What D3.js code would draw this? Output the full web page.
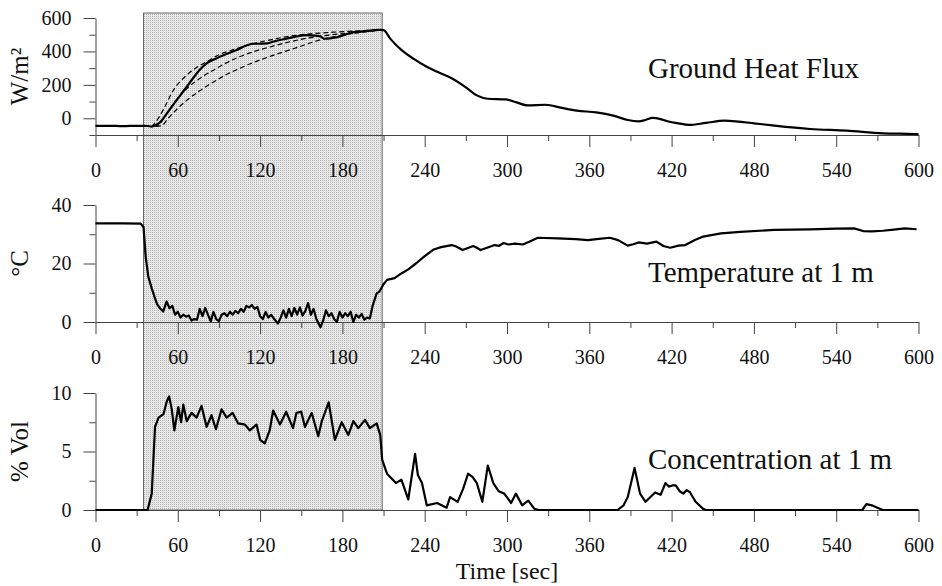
<!DOCTYPE html>
<html>
<head>
<meta charset="utf-8">
<script src="https://cdn.jsdelivr.net/npm/d3@7"></script>
<style>
    body { margin: 0; background: #fff; }
    text { font-family: "Liberation Serif", "Times New Roman", serif; fill: #111; }
</style>
</head>
<body>
<script>
// release window (shaded)
var windowStart = 35;
var windowEnd = 209;

// x axis ticks
var majorTimes = [0, 60, 120, 180, 240, 300, 360, 420, 480, 540, 600];
var minorTimes = [30, 90, 150, 210, 270, 330, 390, 450, 510, 570];

// ground heat flux, measured (solid)
var fluxTime = [0, 10, 20, 30, 35, 38, 41, 44, 47, 53, 59, 65, 71, 76, 81, 88, 95, 102, 110, 115, 120, 125, 131, 137, 145, 154, 160, 164, 167, 171, 176, 182, 188, 195, 202, 207, 210, 215, 223, 232, 241.5, 250, 260, 270, 278, 286, 299, 307, 315, 328, 340, 351, 365, 377.5, 388, 396, 401, 406, 412, 417, 425, 432.5, 445, 458.6, 469, 480, 495, 521, 547.6, 574, 597, 600];
var fluxValue = [-45, -45, -47, -45, -45, -46, -50, -40, -24, 40, 107, 172, 238, 290, 328, 358, 383, 405, 435, 446, 446, 448, 462, 473, 487, 497, 495, 489, 476, 478, 485, 500, 515, 520, 526, 529, 528, 475, 409, 355, 308, 275, 238, 185, 137, 117, 113, 95, 77, 81, 62, 46, 35, 16, -10, -18, -10, 2, -5, -18, -30, -40, -28, -14, -20, -30, -44, -64, -74, -90, -94, -95];

// ground heat flux, model runs (dashed)
var fluxModelA_t = [41, 45, 50, 56.7, 66.5, 73, 81, 90, 100, 112, 125, 137, 149, 161, 173, 190, 207];
var fluxModelA_v = [-50, -10, 60, 167, 258, 300, 338, 380, 409, 440, 465, 485, 499, 508, 515, 522, 529];
var fluxModelB_t = [43, 47, 52, 58, 66.5, 76, 86, 95, 105, 117, 130, 142, 154, 170, 189, 207];
var fluxModelB_v = [-48, -32, 30, 100, 177, 238, 288, 330, 368, 403, 433, 458, 479, 498, 512, 527];
var fluxModelC_t = [44, 48, 53, 60, 66.5, 76, 86, 95, 105, 117, 130, 140, 149, 158, 168.5, 178, 188, 207];
var fluxModelC_v = [-48, -45, 0, 60, 107, 165, 217, 260, 298, 340, 378, 405, 429, 455, 479, 495, 508, 527];

// temperature at 1 m
var tempTime = [0, 20, 33, 35, 36.6, 38.5, 41, 43.4, 45, 47, 49.4, 51.8, 54, 56, 58, 60, 62, 64, 66, 68, 70, 72, 74, 76, 78, 80, 82, 84, 86, 88, 90, 92, 94, 96, 98, 100, 102, 104, 106, 108, 110, 112, 114, 116, 118, 120, 122, 124, 126, 128, 130, 133, 135, 137, 139, 141, 143, 145, 147, 149, 151, 153, 155, 157, 159, 161, 164, 166, 168, 170, 172, 174, 176, 178, 180, 182, 184, 186, 188, 190, 192, 194, 196, 198, 200, 202, 205, 207, 210, 212.6, 218, 223, 228, 233.6, 240, 246.6, 252, 259.7, 263, 267.6, 271, 275.4, 278, 280.7, 286, 291, 294, 297.5, 301, 306, 311.6, 317, 322.5, 337, 350, 359, 367, 375, 381, 388, 392, 396, 402, 409, 414, 419, 425, 430, 437, 443, 456, 470, 495, 521, 540, 553, 559.6, 566, 574, 582, 590, 598.6];
var tempValue = [33.7, 33.7, 33.6, 32.5, 22.3, 15.5, 11.5, 8.1, 6, 4.7, 3.6, 7, 4.7, 5.5, 2.5, 3.5, 1.5, 2.5, 1.8, 2.2, 0.5, 1.0, 0.8, 4.5, 2.0, 4.8, 2.5, 0.2, 3.5, 1.0, 0.3, 2.5, 3.0, 2.0, 3.5, 2.5, 3.8, 3.0, 4.5, 3.5, 5.5, 5.0, 5.8, 4.5, 5.2, 2.0, 1.0, 3.5, 1.5, 2.5, 1.2, -0.5, 1.5, 4.0, 1.5, 4.5, 2.0, 4.8, 2.5, 5.0, 2.2, 3.8, 6.5, 2.5, 4.5, 1.0, -1.8, 0.5, 4.0, 2.0, 3.0, 1.0, 0.0, 3.5, 1.5, 3.0, 2.0, 3.5, 0.0, 2.5, 1.5, 2.8, 0.8, 1.5, 1.2, 5.5, 9.8, 10.4, 12.9, 14.4, 15, 16.6, 18, 20, 22.5, 24.8, 25.6, 26.3, 25.8, 24.6, 25.2, 26, 25.4, 24.6, 25.5, 26.3, 26, 27, 26.5, 26.8, 26.5, 27.6, 28.8, 28.6, 28.3, 28, 28.4, 28.8, 28, 26.1, 26.6, 27.2, 26.8, 27.5, 26, 25.4, 26.1, 26.3, 28, 29.2, 30.3, 30.8, 31.5, 31.7, 31.9, 32, 31.1, 31, 31.2, 31.6, 32, 31.7];

// concentration at 1 m
var concTime = [0, 38, 41, 43.4, 46, 49.6, 52, 53.7, 55.6, 57.5, 60.4, 62.4, 64, 66.5, 70, 73.7, 77.3, 81, 84.6, 87.8, 91.9, 95.6, 100, 104, 109, 112.5, 117.4, 120, 123.4, 127, 129.5, 134.5, 139, 144, 146.5, 150, 152.7, 157.6, 162.4, 165, 170, 174.5, 179.5, 184.3, 188, 191.6, 196.5, 200, 205, 207.6, 209, 212.5, 215, 219, 223, 228, 233, 235, 238, 241.5, 249, 256, 258.5, 264, 268, 271.6, 275, 278, 282, 286, 290, 294, 298, 303, 306.5, 311, 315.5, 320, 323, 380.6, 385, 388, 393, 397, 401, 408, 412, 415.5, 418, 420.5, 423, 426, 428.5, 431, 433.5, 437.5, 443, 445, 559, 562, 566, 570, 574, 600];
var concValue = [0, 0, 1.4, 7.1, 7.9, 8.2, 9.3, 9.7, 8.6, 6.8, 8.8, 7.5, 9.0, 7.6, 8.3, 7.9, 8.9, 7.1, 8.1, 6.9, 8.6, 7.9, 8.3, 7.4, 7.3, 6.8, 7.3, 6.0, 5.7, 6.8, 8.5, 7.3, 8.4, 7.0, 8.3, 8.4, 7.1, 8.3, 6.3, 7.6, 9.2, 6.0, 7.5, 6.4, 7.6, 7.0, 7.7, 7.0, 7.4, 6.4, 4.3, 3.1, 2.8, 2.3, 2.6, 0.9, 4.8, 3.0, 2.3, 0.4, 0.6, 0.2, 1.1, 0.7, 1.8, 3.1, 2.8, 2.3, 0.7, 3.8, 2.3, 1.6, 1.4, 0.6, 1.4, 0.4, 0.8, 0.1, 0, 0, 0.4, 1.1, 3.6, 1.4, 0.7, 1.5, 1.3, 2.3, 2.0, 2.1, 2.1, 1.6, 1.4, 1.7, 1.5, 0.7, 0.1, 0, 0, 0.5, 0.4, 0.2, 0, 0];

// panel y axes
var fluxDomain = [-100, 600];
var fluxMajor = [0, 200, 400, 600];
var fluxMinor = [-100, 100, 300, 500];
var tempDomain = [0, 40];
var tempMajor = [0, 20, 40];
var tempMinor = [10, 30];
var concDomain = [0, 10];
var concMajor = [0, 5, 10];
var concMinor = [2.5, 7.5];

function init ()
{
    var w = 942;
    var h = 586;
    var xLeft = 95.5;
    var xRight = 918.5;
    var panelH = 117;

    var svg = d3.select("body")
        .append("svg")
        .attr("width", w)
        .attr("height", h);

        //stipple fill for the release window
    var pat = svg.append("defs")
        .append("pattern")
        .attr("id", "stipple")
        .attr("patternUnits", "userSpaceOnUse")
        .attr("width", 2)
        .attr("height", 2);
    pat.append("rect")
        .attr("width", 2)
        .attr("height", 2)
        .style("fill", "#e8e8e8");
    pat.append("rect")
        .attr("width", 1)
        .attr("height", 1)
        .style("fill", "#b4b4b4");

    var xScale = d3.scaleLinear()
        .domain([0, 600])
        .range([xLeft, xRight]);

    var panels = [
        { top: 18, domain: fluxDomain, major: fluxMajor, minor: fluxMinor, title: "W/m²", note: "Ground Heat Flux", noteY: 78 },
        { top: 205, domain: tempDomain, major: tempMajor, minor: tempMinor, title: "°C", note: "Temperature at 1 m", noteY: 282 },
        { top: 393, domain: concDomain, major: concMajor, minor: concMinor, title: "% Vol", note: "Concentration at 1 m", noteY: 469 }
    ];

    panels.forEach(function(p) {
        p.yScale = d3.scaleLinear()
            .domain(p.domain)
            .range([p.top + panelH, p.top]);
    });

    // shaded release window
    svg.append("rect")
        .attr("x", xScale(windowStart))
        .attr("y", 13)
        .attr("width", xScale(windowEnd) - xScale(windowStart))
        .attr("height", panels[2].top + panelH - 13)
        .style("fill", "url(#stipple)")
        .style("stroke", "#666")
        .style("stroke-width", 1);

    // axes
    panels.forEach(function(p) {
        var base = p.top + panelH;

        var xMajor = d3.axisBottom(xScale)
            .tickValues(majorTimes)
            .tickSize(12)
            .tickSizeOuter(0)
            .tickPadding(16)
            .tickFormat(d3.format("d"));
        var xMin = d3.axisBottom(xScale)
            .tickValues(minorTimes)
            .tickSize(6)
            .tickSizeOuter(0)
            .tickFormat("");

        svg.append("g")
            .attr("transform", "translate(0," + base + ")")
            .call(xMajor);
        svg.append("g")
            .attr("transform", "translate(0," + base + ")")
            .call(xMin)
            .select(".domain").remove();

        var yMajor = d3.axisLeft(p.yScale)
            .tickValues(p.major)
            .tickSize(12)
            .tickSizeOuter(0)
            .tickPadding(12)
            .tickFormat(d3.format("d"));
        var yMin = d3.axisLeft(p.yScale)
            .tickValues(p.minor)
            .tickSize(6)
            .tickSizeOuter(0)
            .tickFormat("");

        svg.append("g")
            .attr("transform", "translate(" + xLeft + ",0)")
            .call(yMajor);
        svg.append("g")
            .attr("transform", "translate(" + xLeft + ",0)")
            .call(yMin)
            .select(".domain").remove();

            //axis title
        svg.append("text")
            .attr("transform", "translate(28," + (p.top + panelH / 2) + ") rotate(-90)")
            .attr("text-anchor", "middle")
            .style("font-size", "25px")
            .text(p.title);

            //curve label
        svg.append("text")
            .attr("x", 648)
            .attr("y", p.noteY)
            .style("font-size", "29px")
            .text(p.note);
    });

    svg.selectAll(".tick text")
        .style("font-size", "20px")
        .style("font-family", "'Liberation Serif', 'Times New Roman', serif")
        .attr("fill", "#111");
    svg.selectAll(".tick line, .domain")
        .attr("stroke", "#444");

    svg.append("text")
        .attr("x", (xLeft + xRight) / 2)
        .attr("y", 579)
        .attr("text-anchor", "middle")
        .style("font-size", "24px")
        .text("Time [sec]");

    // data lines
    var drawLine = function(times, values, yScale, smooth, dashed) {
        var pts = times.map(function(t, i) { return [t, values[i]]; });
        var line = d3.line()
            .x(function(d) { return xScale(d[0]); })
            .y(function(d) { return yScale(d[1]); })
            .curve(smooth ? d3.curveMonotoneX : d3.curveLinear);
        svg.append("path")
            .datum(pts)
            .attr("d", line)
            .style("fill", "none")
            .style("stroke", "#000")
            .style("stroke-width", dashed ? 1.2 : 2.2)
            .style("stroke-dasharray", dashed ? "5,3" : null)
            .style("stroke-linejoin", "round");
    };

    drawLine(fluxModelA_t, fluxModelA_v, panels[0].yScale, true, true);
    drawLine(fluxModelB_t, fluxModelB_v, panels[0].yScale, true, true);
    drawLine(fluxModelC_t, fluxModelC_v, panels[0].yScale, true, true);
    drawLine(fluxTime, fluxValue, panels[0].yScale, true, false);
    drawLine(tempTime, tempValue, panels[1].yScale, false, false);
    drawLine(concTime, concValue, panels[2].yScale, false, false);
}

window.onload = init;
</script>
</body>
</html>
